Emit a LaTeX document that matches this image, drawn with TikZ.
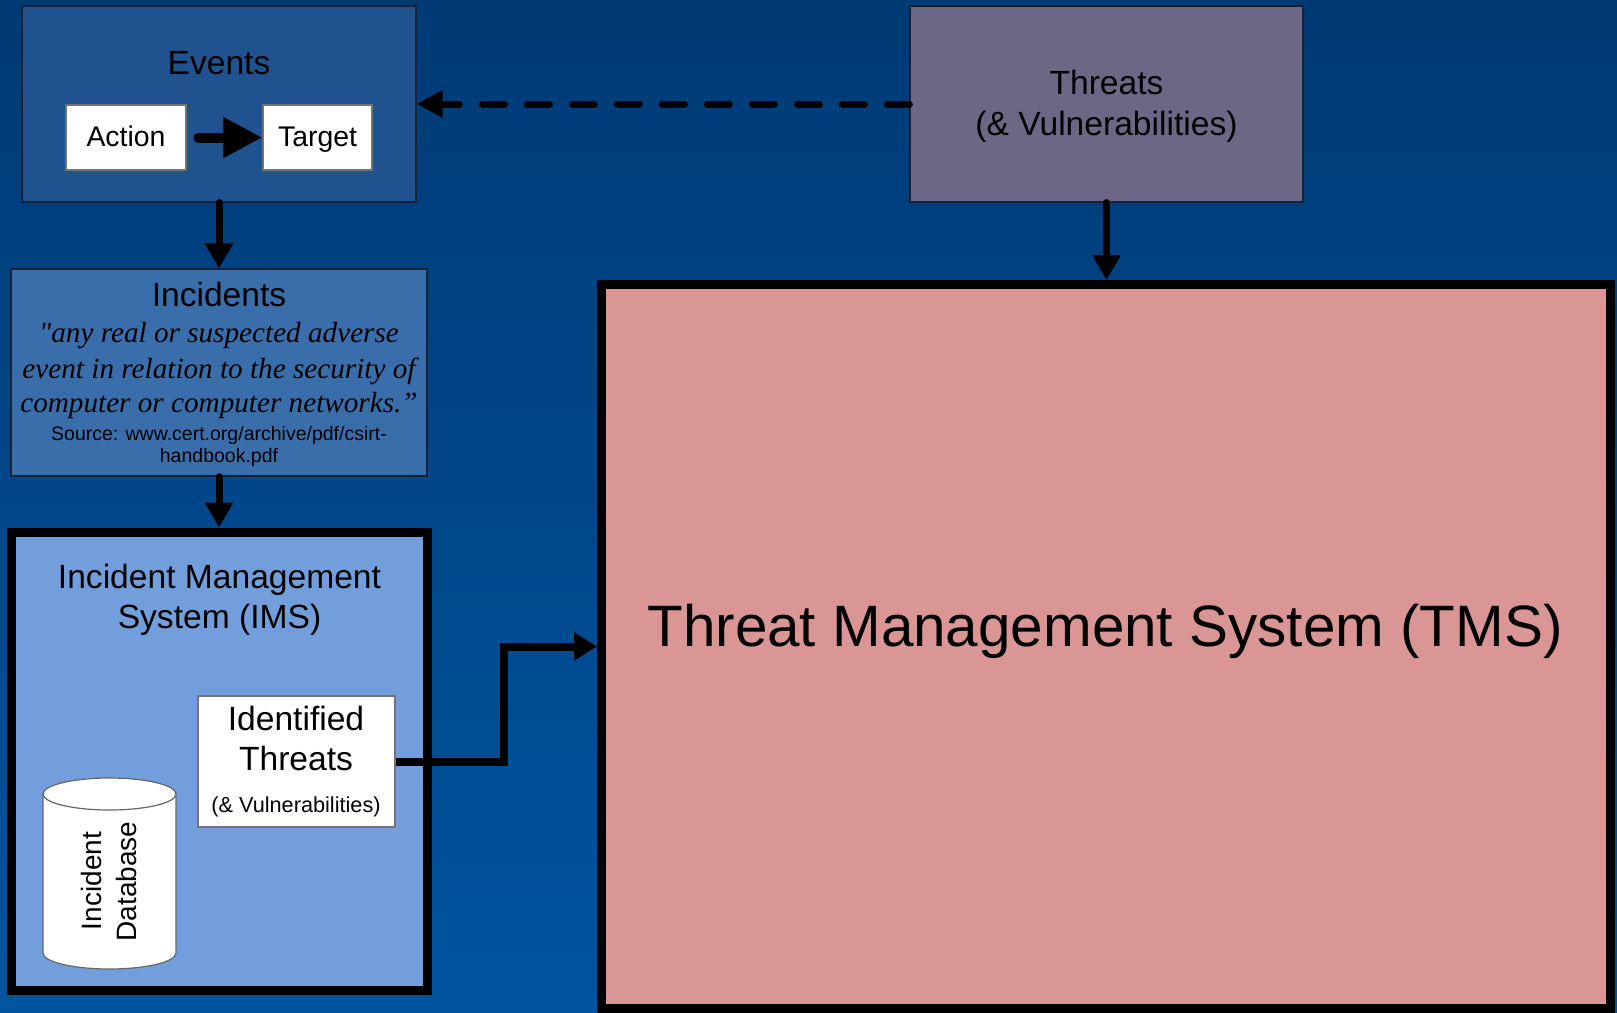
\documentclass[tikz,border=0pt]{standalone}
\usepackage{fontspec}
\setmainfont{Liberation Sans}
\newfontfamily\quotefont{Liberation Serif}
\usetikzlibrary{arrows.meta,fit,calc}

\definecolor{bgtop}{RGB}{0,58,117}
\definecolor{bgbot}{RGB}{0,84,160}
\definecolor{evfill}{RGB}{31,82,143}
\definecolor{incfill}{RGB}{58,110,171}
\definecolor{imsfill}{RGB}{114,159,219}
\definecolor{thrfill}{RGB}{107,103,133}
\definecolor{tmsfill}{RGB}{218,150,148}
\definecolor{thinedge}{RGB}{22,34,56}

\begin{document}
\begin{tikzpicture}[x=0.5pt,y=-0.5pt,
  box/.style={draw=thinedge, line width=0.6pt, inner sep=0pt},
  whitebox/.style={draw=black!55, fill=white, line width=0.6pt, inner sep=0pt},
  heavy/.style={draw=black, line width=4.5pt, inner sep=0pt},
  txt/.style={anchor=base, inner sep=0pt, align=center},
  big/.style={font=\fontsize{16.8pt}{20pt}\selectfont},
  quotetxt/.style={font=\quotefont\itshape\fontsize{14.6pt}{17.5pt}\selectfont},
  srctxt/.style={font=\fontsize{9.75pt}{11pt}\selectfont},
  conn/.style={black, line width=3.5pt, line cap=round, -{Triangle[length=12.5pt,width=13.5pt]}},
]

\useasboundingbox (0,0) rectangle (1617,1012);
\shade[top color=bgtop, bottom color=bgbot] (0,0) rectangle (1617,1012);

% Events
\node[box, fill=evfill, fit={(22,6) (416,202)}] (events) {};
\node[txt, big] (evtitle) at (219,74) {Events};
\node[whitebox, fit={(66,105) (186,170)}] (action) {};
\node[txt, font=\fontsize{14.2pt}{17pt}\selectfont] (actiontxt) at (126,146) {Action};
\node[whitebox, fit={(263,105) (372,170)}] (target) {};
\node[txt, font=\fontsize{14.2pt}{17pt}\selectfont] (targettxt) at (317.5,146) {Target};

% Incidents
\node[box, fill=incfill, fit={(11,269) (427,476)}] (incidents) {};
\node[txt, big] (inctitle) at (219,306.5) {Incidents};
\node[txt, quotetxt] (q1) at (219,342.7) {"any real or suspected adverse};
\node[txt, quotetxt] (q2) at (219,378) {event in relation to the security of};
\node[txt, quotetxt] (q3) at (219,412.7) {computer or computer networks.”};
\node[txt, srctxt] (s1) at (219,440) {Source: www.cert.org/archive/pdf/csirt-};
\node[txt, srctxt] (s2) at (219,462) {handbook.pdf};

% IMS
\node[heavy, fill=imsfill, fit={(11.5,532) (427.5,990)}] (ims) {};
\node[txt, big] (imst1) at (219.5,588) {Incident Management};
\node[txt, big] (imst2) at (219.5,628) {System (IMS)};

\node[whitebox, fit={(198,696) (395,827)}] (ident) {};
\node[txt, big] (id1) at (296,730.7) {Identified};
\node[txt, big] (id2) at (296,770.7) {Threats};
\node[txt, font=\fontsize{10.85pt}{13pt}\selectfont] (id3) at (296,812.7) {(\& Vulnerabilities)};

% Incident database cylinder
\path[draw=black!60, fill=white, line width=0.6pt]
  (43,794) -- (43,953) arc[start angle=180, end angle=0, x radius=66.5, y radius=16]
  -- (176,794) arc[start angle=0, end angle=-180, x radius=66.5, y radius=16] -- cycle;
\draw[black!60, line width=0.6pt] (43,794) arc[start angle=180, end angle=0, x radius=66.5, y radius=16];
\node[txt, rotate=90, font=\fontsize{14pt}{17pt}\selectfont] (db1) at (101.7,881) {Incident};
\node[txt, rotate=90, font=\fontsize{14pt}{17pt}\selectfont] (db2) at (136.7,881.5) {Database};

% Threats
\node[box, fill=thrfill, fit={(910,6) (1303,202)}] (threats) {};
\node[txt, big] (thr1) at (1106.5,94) {Threats};
\node[txt, big] (thr2) at (1106.5,135) {(\& Vulnerabilities)};

% TMS
\node[heavy, fill=tmsfill, fit={(601.5,284.5) (1610.5,1008.5)}] (tms) {};
\node[txt, font=\fontsize{29.2pt}{34pt}\selectfont] (tmstitle) at (1105,646) {Threat Management System (TMS)};

% Connectors
\draw[line width=5pt, line cap=round, -{Triangle[length=19.5pt,width=19pt]}, shorten <=6pt] (action) -- (target);
\draw[conn] (events) -- (incidents);
\draw[conn] (incidents) -- (incidents |- ims.north);
\draw[conn] (threats) -- (threats |- tms.north);
\draw[black, line width=3.5pt, line cap=round, dash pattern=on 11pt off 11.5pt,
      -{Triangle[length=13pt,width=13pt]}] (threats) -- (events);
\draw[black, line width=4pt, -{Triangle[length=11.5pt,width=13.5pt]}] (ident.east) -- ++(108,0) |- (tms.west);

\end{tikzpicture}
\end{document}
